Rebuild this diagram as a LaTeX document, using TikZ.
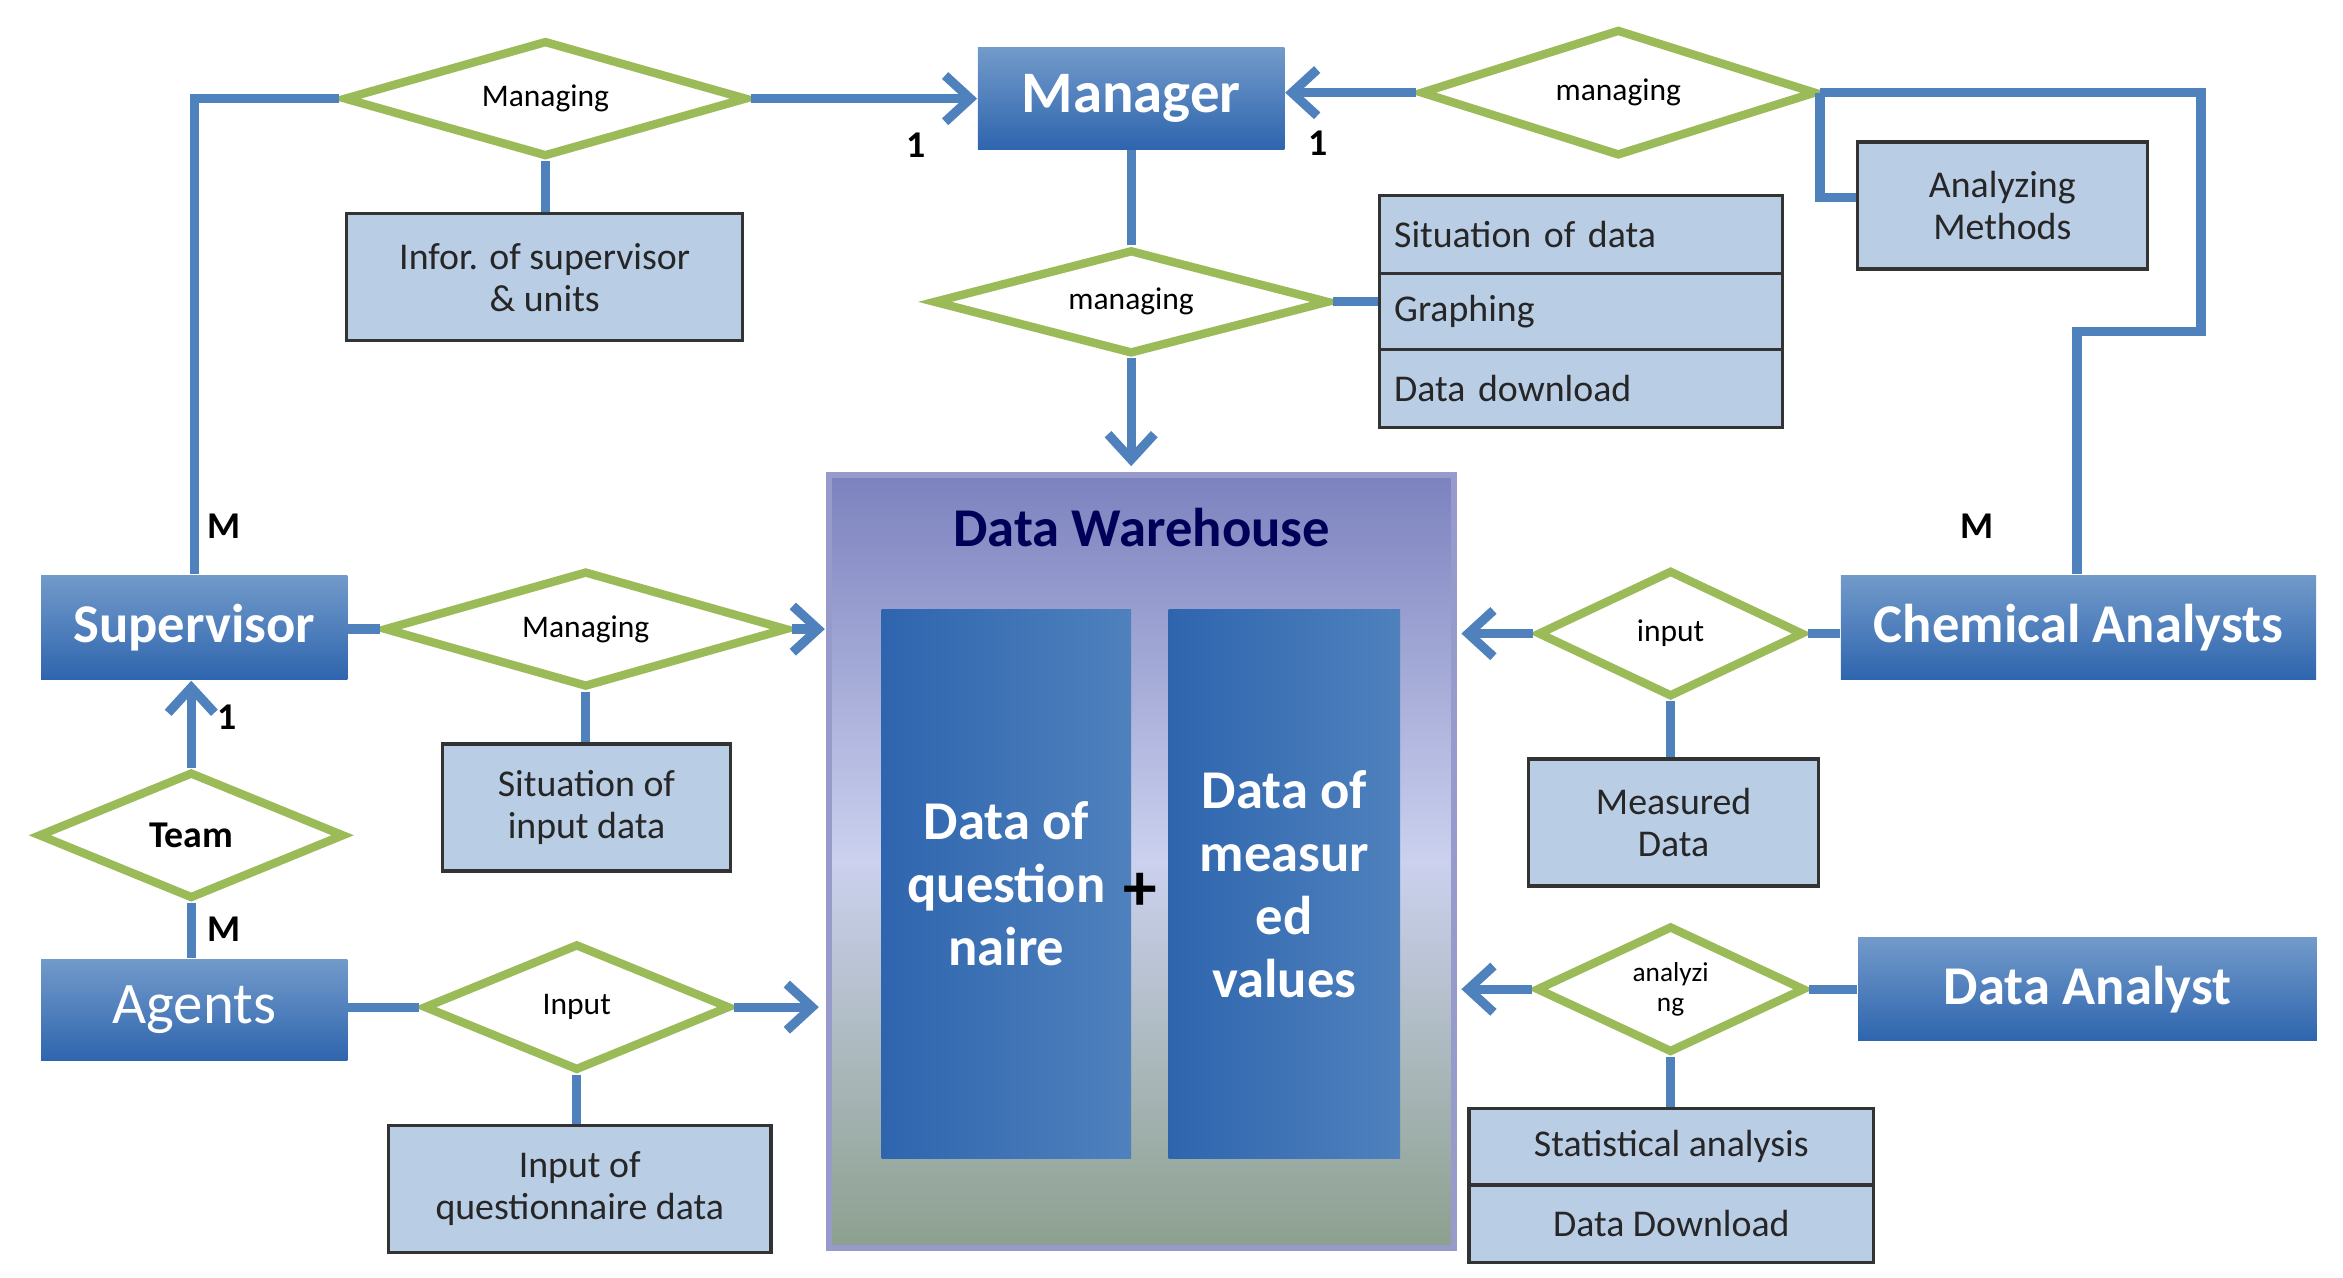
\documentclass[tikz,border=0pt]{standalone}
\usepackage{fontspec}
\setmainfont{Carlito}
\usetikzlibrary{shapes.geometric,arrows.meta}
\definecolor{lb}{HTML}{4F81BD}
\definecolor{db}{HTML}{2E65AE}
\definecolor{gr}{HTML}{9BBB59}
\definecolor{pb}{HTML}{B9CDE5}
\definecolor{wt}{HTML}{7C82BE}
\definecolor{wm}{HTML}{CBD1EE}
\definecolor{wb}{HTML}{8CA08E}
\begin{document}
\begin{tikzpicture}[x=0.0125cm,y=-0.0125cm,
 ent/.style={rectangle,top color=lb!80!white,bottom color=db,text=white,font=\bfseries\fontsize{13}{14}\selectfont},
 dia/.style={diamond,aspect=3,draw=gr,line width=2pt,fill=white,inner sep=0pt,font=\fontsize{7.5}{8}\selectfont,align=center},
 box/.style={draw=black!80,line width=0.8pt,fill=pb,font=\fontsize{9}{10}\selectfont,align=center,text=black!85},
 col/.style={rectangle,minimum height=367*0.0125cm,left color=db,right color=lb,text=white,align=center,font=\bfseries\fontsize{13}{15}\selectfont},
 con/.style={draw=lb,line width=2.2pt},
 arr/.style={con,-{Straight Barb[length=6pt,width=11pt]}},
 lab/.style={font=\bfseries\fontsize{9}{10}\selectfont}]
\useasboundingbox (0,0) rectangle (1568,855);
% entities
\node[ent,minimum width=205*0.0125cm,minimum height=68*0.0125cm,font=\bfseries\fontsize{14}{15}\selectfont] (man) at (757,66) {Manager};
\node[ent,minimum width=205*0.0125cm,minimum height=70*0.0125cm] (sup) at (130,420) {Supervisor};
\node[ent,minimum width=205*0.0125cm,minimum height=68*0.0125cm,font=\fontsize{14}{15}\selectfont] (ag) at (130,676) {Agents};
\node[ent,minimum width=318*0.0125cm,minimum height=70*0.0125cm] (ca) at (1391,420) {Chemical Analysts};
\node[ent,minimum width=307*0.0125cm,minimum height=69*0.0125cm] (da) at (1397,662) {Data Analyst};
% warehouse
\shade[top color=wt, bottom color=wb, middle color=wm] (555,318) rectangle (973,835);
\draw[draw=wt!80!white,line width=1.5pt] (555,318) rectangle (973,835);
\node[rectangle,minimum width=418*0.0125cm,minimum height=517*0.0125cm] (dw) at (764,576.5) {};
\node[font=\bfseries\fontsize{13}{14}\selectfont,text=blue!35!black] (dwt) at (764,353) {Data Warehouse};
\node[col,minimum width=167*0.0125cm] (q) at (673.5,591.5) {Data of\\question\\naire};
\node[col,minimum width=155*0.0125cm] (mv) at (859.5,591.5) {Data of\\measur\\ed\\values};
\node[font=\bfseries\fontsize{16}{16}\selectfont] (plus) at (763,597) {+};
% diamonds
\node[dia,minimum width=270*0.0125cm,minimum height=78*0.0125cm] (d1) at (365,66) {Managing};
\node[dia,minimum width=265*0.0125cm,minimum height=85*0.0125cm] (d2) at (1083,62) {managing};
\node[dia,minimum width=265*0.0125cm,minimum height=70*0.0125cm] (d3) at (757,202) {managing};
\node[dia,minimum width=270*0.0125cm,minimum height=78*0.0125cm] (d4) at (392,421) {Managing};
\node[dia,minimum width=205*0.0125cm,minimum height=85*0.0125cm,font=\bfseries\fontsize{9}{10}\selectfont] (d5) at (128,559) {Team};
\node[dia,minimum width=205*0.0125cm,minimum height=85*0.0125cm] (d6) at (386,674) {Input};
\node[dia,minimum width=178*0.0125cm,minimum height=85*0.0125cm] (d7) at (1118,424) {input};
\node[dia,minimum width=180*0.0125cm,minimum height=85*0.0125cm,font=\fontsize{6.5}{7}\selectfont] (d8) at (1118,662) {analyzi\\ng};
% boxes
\newcommand{\bx}[6]{\node[box,minimum width=#3*0.0125cm,minimum height=#4*0.0125cm] (#5) at (#1,#2) {#6};}
\bx{364.5}{185.5}{265}{85}{b1}{Infor. of supervisor\\\& units}
\node[box,minimum width=270*0.0125cm,minimum height=52*0.0125cm,align=left,text width=250*0.0125cm] (b2) at (1058,157) {Situation of data};
\node[box,minimum width=270*0.0125cm,minimum height=51*0.0125cm,align=left,text width=250*0.0125cm] (b3) at (1058,208.5) {Graphing};
\node[box,minimum width=270*0.0125cm,minimum height=52*0.0125cm,align=left,text width=250*0.0125cm] (b4) at (1058,260) {Data download};
\bx{1340}{137.5}{194}{85}{b5}{Analyzing\\Methods}
\bx{392.5}{540.5}{193}{85}{b6}{Situation of\\input data}
\bx{1120}{550.5}{194}{85}{b7}{Measured\\Data}
\bx{388}{795.5}{256}{85}{b8}{Input of\\questionnaire data}
\bx{1118.5}{767.5}{271}{51}{b9}{Statistical analysis}
\bx{1118.5}{819}{271}{52}{b10}{Data Download}
% connectors
\draw[con] (sup.north) |- (d1.west);
\draw[arr] (d1.east) -- (man.west |- d1.east);
\draw[con] (d1.south) -- (b1.north -| d1.south);
\coordinate (c1) at (1390,222); \coordinate (c2) at (1473,222);
\draw[con] (ca.north -| c1) -- (c1) -- (c2) |- (d2.east);
\draw[arr] (d2.west) -- (man.east |- d2.west);
\coordinate (c3) at (1218,62);
\draw[con] (c3) |- (b5.west |- 0,132);
\draw[con] (man.south) -- (d3.north);
\draw[arr] (d3.south) -- (757,312);
\draw[con] (d3.east) -- (b3.west |- d3.east);
\draw[con] (sup.east |- d4.west) -- (d4.west);
\draw[arr] (d4.east) -- (552,421);
\draw[con] (d4.south) -- (b6.north -| d4.south);
\draw[arr] (d5.north) -- (sup.south -| d5.north);
\draw[con] (d5.south) -- (ag.north -| d5.south);
\draw[con] (ag.east |- d6.west) -- (d6.west);
\draw[arr] (d6.east) -- (548,674);
\draw[con] (d6.south) -- (b8.north -| d6.south);
\draw[con] (ca.west |- d7.east) -- (d7.east);
\draw[arr] (d7.west) -- (978,424);
\draw[con] (d7.south) -- (b7.north -| d7.south);
\draw[con] (da.west |- d8.east) -- (d8.east);
\draw[arr] (d8.west) -- (978,662);
\draw[con] (d8.south) -- (b9.north -| d8.south);
% labels
\node[lab] (l1) at (613,97) {1};
\node[lab] (l2) at (882,96) {1};
\node[lab] (l3) at (150,352) {M};
\node[lab] (l4) at (1323,352) {M};
\node[lab] (l5) at (152,480) {1};
\node[lab] (l6) at (150,622) {M};
\end{tikzpicture}
\end{document}
